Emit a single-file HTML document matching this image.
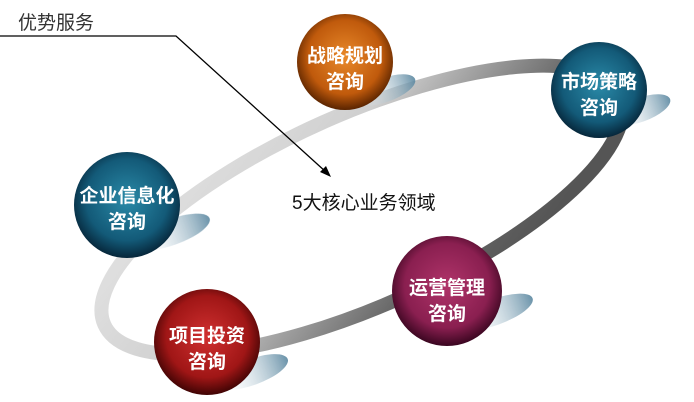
<!DOCTYPE html>
<html><head><meta charset="utf-8"><style>
body{margin:0;background:#fff;}
svg{display:block}
text{font-family:"Liberation Sans","Noto Sans CJK SC",sans-serif;}
</style></head><body>
<svg width="694" height="402" viewBox="0 0 694 402" xmlns="http://www.w3.org/2000/svg">
<defs>
<linearGradient id="ring" x1="0" y1="0" x2="1" y2="0.6">
<stop offset="0" stop-color="#e6e6e6"/><stop offset="0.45" stop-color="#cfcfcf"/><stop offset="0.8" stop-color="#6a6a6a"/><stop offset="1" stop-color="#555"/>
</linearGradient>
<linearGradient id="sh" x1="0" y1="0" x2="1" y2="0">
<stop offset="0" stop-color="#fff" stop-opacity="0"/><stop offset="1" stop-color="#5a87a0"/>
</linearGradient>
<radialGradient id="or" cx="0.5" cy="0.45" r="0.55"><stop offset="0" stop-color="#e8892a"/><stop offset="0.7" stop-color="#c05a0c"/><stop offset="1" stop-color="#5a2400"/></radialGradient>
<radialGradient id="tl" cx="0.5" cy="0.45" r="0.55"><stop offset="0" stop-color="#2a8aa8"/><stop offset="0.7" stop-color="#135a78"/><stop offset="1" stop-color="#06263a"/></radialGradient>
<radialGradient id="mr" cx="0.5" cy="0.45" r="0.55"><stop offset="0" stop-color="#b0346a"/><stop offset="0.7" stop-color="#8a1f50"/><stop offset="1" stop-color="#3a0620"/></radialGradient>
<radialGradient id="rd" cx="0.5" cy="0.45" r="0.55"><stop offset="0" stop-color="#d03030"/><stop offset="0.7" stop-color="#a01616"/><stop offset="1" stop-color="#400404"/></radialGradient>
</defs>
<ellipse cx="362" cy="210" rx="282" ry="96" transform="rotate(-24 362 210)" fill="none" stroke="url(#ring)" stroke-width="14"/>
<g fill="url(#sh)" opacity="0.9">
<ellipse cx="385" cy="90" rx="32" ry="12" transform="rotate(-20 385 90)"/>
<ellipse cx="640" cy="110" rx="32" ry="12" transform="rotate(-20 640 110)"/>
<ellipse cx="172" cy="232" rx="40" ry="13" transform="rotate(-20 172 232)"/>
<ellipse cx="495" cy="312" rx="40" ry="13" transform="rotate(-20 495 312)"/>
<ellipse cx="252" cy="372" rx="38" ry="13" transform="rotate(-20 252 372)"/>
</g>
<circle cx="345" cy="62" r="48" fill="url(#or)"/>
<circle cx="599" cy="90" r="48" fill="url(#tl)"/>
<circle cx="127" cy="205" r="53" fill="url(#tl)"/>
<circle cx="447" cy="291" r="55" fill="url(#mr)"/>
<circle cx="207" cy="342" r="53" fill="url(#rd)"/>
<g fill="#fff" font-size="19" font-weight="bold" text-anchor="middle">
<text x="345" y="62">战略规划</text><text x="345" y="88">咨询</text>
<text x="599" y="88">市场策略</text><text x="599" y="114">咨询</text>
<text x="127" y="202">企业信息化</text><text x="127" y="228">咨询</text>
<text x="447" y="294">运营管理</text><text x="447" y="320">咨询</text>
<text x="207" y="342">项目投资</text><text x="207" y="368">咨询</text>
</g>
<text x="18" y="29" font-size="19" fill="#333">优势服务</text>
<polyline points="0,36 176,36 326,172" fill="none" stroke="#000" stroke-width="1.3"/>
<polygon points="331,177 320,172 326,166" fill="#000"/>
<text x="292" y="209" font-size="19" fill="#111">5大核心业务领域</text>
</svg>
</body></html>
